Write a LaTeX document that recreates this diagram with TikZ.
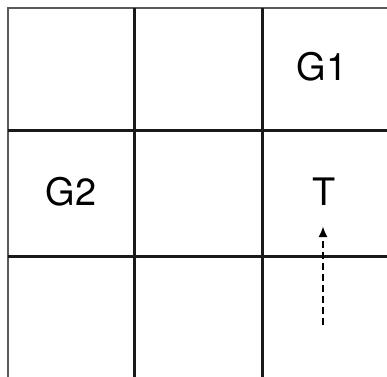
\documentclass[tikz,border=0pt]{standalone}
\usepackage{fontspec}
\setsansfont{TeX Gyre Heros}
\usetikzlibrary{arrows.meta}

\begin{document}
\begin{tikzpicture}[x=1bp,y=-1bp,
  gridline/.style={black!90, line width=3bp},
  outerline/.style={black!65, line width=1.8bp},
  cellname/.style={font=\sffamily\fontsize{38}{38}\selectfont, inner sep=0pt},
  moveline/.style={black, line width=2.6bp, dash pattern=on 7bp off 4bp, -{Latex[length=11bp,width=9bp]}}]
\useasboundingbox (0,0) rectangle (387,377);

%BOARD
\fill[white] (0,0) rectangle (387,377);
\draw[outerline] (8,377) -- (8,8) -- (387,8);
\draw[gridline] (8,130) -- (387,130);
\draw[gridline] (8,256) -- (387,256);
\draw[gridline] (134,8) -- (134,377);
\draw[gridline] (262,8) -- (262,377);

%LABELS
\node[cellname] (g1) at (322,67) {G1};
\node[cellname] (g2) at (71,192) {G2};
\node[cellname] (t) at (324,192) {T};

%MOVE
\coordinate (mstart) at (323,325);
\coordinate (mend) at (323,226);
\draw[moveline] (mstart) -- (mend);

\end{tikzpicture}
\end{document}
